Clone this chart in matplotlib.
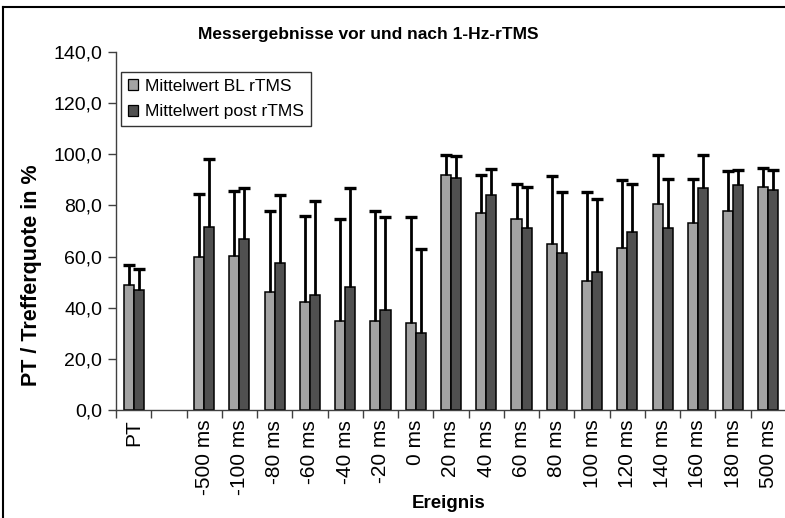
import numpy as np
import matplotlib
matplotlib.use("Agg")
import matplotlib.pyplot as plt
from matplotlib.lines import Line2D
from matplotlib.patches import Patch
from matplotlib.ticker import FixedLocator, FuncFormatter

plt.rcParams['font.family'] = ['Liberation Sans', 'DejaVu Sans']

categories = ["PT", "", "-500 ms", "-100 ms", "-80 ms", "-60 ms", "-40 ms", "-20 ms",
              "0 ms", "20 ms", "40 ms", "60 ms", "80 ms", "100 ms", "120 ms",
              "140 ms", "160 ms", "180 ms", "500 ms"]
bl_mean = [49.0, np.nan, 59.8, 60.3, 46.0, 42.1, 34.8, 34.8, 33.9, 91.8, 76.9, 74.6,
           64.8, 50.6, 63.2, 80.4, 73.1, 77.9, 87.2]
bl_err = [7.8, np.nan, 24.7, 25.2, 31.7, 33.9, 39.8, 43.1, 41.6, 7.8, 15.0, 13.9,
          26.7, 34.8, 26.8, 19.2, 17.2, 15.4, 7.4]
post_mean = [47.1, np.nan, 71.6, 66.7, 57.4, 45.1, 48.1, 39.2, 30.0, 90.7, 83.9, 71.0,
             61.3, 54.0, 69.6, 71.2, 86.8, 87.9, 85.9]
post_err = [7.9, np.nan, 26.6, 20.2, 26.7, 36.8, 38.8, 36.3, 32.8, 8.5, 10.3, 16.2,
            24.1, 28.4, 18.8, 19.1, 12.8, 5.8, 7.8]
series_names = ["Mittelwert BL rTMS", "Mittelwert post rTMS"]
title = "Messergebnisse vor und nach 1-Hz-rTMS"
xlabel = "Ereignis"
ylabel = "PT / Trefferquote in %"

W, H = 785, 518
fig = plt.figure(figsize=(W / 100, H / 100), dpi=100)
ax = fig.add_axes([116 / W, 1 - 410 / H, 670 / W, 358 / H])

n = len(categories)
x = np.arange(n) + 0.5
bw = 0.285
c_bl = "#A3A3A3"
c_post = "#505050"

bl = np.array(bl_mean, float); ble = np.array(bl_err, float)
po = np.array(post_mean, float); poe = np.array(post_err, float)

ax.bar(x - bw / 2, bl, bw, color=c_bl, edgecolor="black", linewidth=1.1, zorder=2)
ax.bar(x + bw / 2, po, bw, color=c_post, edgecolor="black", linewidth=1.1, zorder=2)

# upper error bars only (line + cap at top)
for xs, m, e in [(x - bw / 2, bl, ble), (x + bw / 2, po, poe)]:
    ax.vlines(xs, m, m + e, color="black", linewidth=2.0, zorder=3)
    ax.plot(xs, m + e, linestyle="none", marker="_", markersize=8,
            markeredgewidth=2.4, color="black", zorder=3)

ax.set_xlim(0, n)
ax.set_ylim(0, 140)
ax.set_yticks(np.arange(0, 141, 20))
ax.yaxis.set_major_formatter(FuncFormatter(lambda v, p: f"{v:.1f}".replace(".", ",")))
ax.set_xticks(x)
ax.set_xticklabels(categories, rotation=90)
ax.xaxis.set_minor_locator(FixedLocator(np.arange(0, n + 1)))
ax.tick_params(axis="x", which="major", length=0, pad=7, labelsize=15)
ax.tick_params(axis="x", which="minor", length=6, width=1, color="#404040", direction="out")
ax.tick_params(axis="y", length=6, width=1, color="#404040", direction="out", labelsize=14, pad=4)

for s in ["top", "right"]:
    ax.spines[s].set_visible(False)
for s in ["left", "bottom"]:
    ax.spines[s].set_color("#404040")
    ax.spines[s].set_linewidth(1)

fig.text(449 / W, 1 - 503 / H, xlabel, fontsize=13.5, fontweight="bold", ha="center", va="center")
fig.text(32 / W, 1 - 275 / H, ylabel, fontsize=15.5, fontweight="bold", ha="center",
         va="center", rotation=90)
fig.text(368 / W, 1 - 35 / H, title, fontsize=12.5, fontweight="bold", ha="center", va="center")

handles = [Patch(facecolor=c_bl, edgecolor="black", linewidth=0.9),
           Patch(facecolor=c_post, edgecolor="black", linewidth=0.9)]
leg = ax.legend(handles, series_names, loc="upper left",
                bbox_to_anchor=((121 - 116) / 670, (410 - 72) / 358),
                fontsize=12.5, frameon=True, fancybox=False, borderpad=0.4,
                handlelength=0.6, handleheight=0.6, handletextpad=0.4, labelspacing=0.6,
                borderaxespad=0)
leg.get_frame().set_edgecolor("black")
leg.get_frame().set_linewidth(1)

# figure border (top and left visible)
fig.add_artist(Line2D([3 / W, 3 / W], [0, 1 - 7 / H], color="black", lw=1.5, transform=fig.transFigure))
fig.add_artist(Line2D([3 / W, 1], [1 - 7 / H, 1 - 7 / H], color="black", lw=1.5, transform=fig.transFigure))

fig.savefig("out.png", dpi=100)
